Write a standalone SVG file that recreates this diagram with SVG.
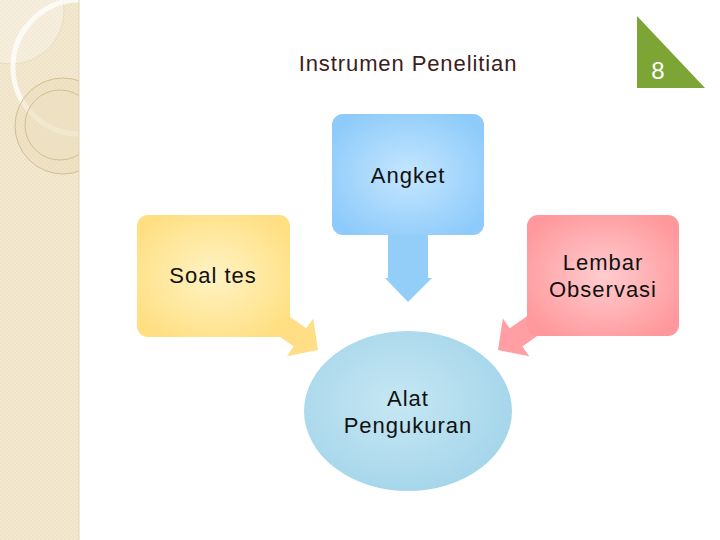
<svg xmlns="http://www.w3.org/2000/svg" width="720" height="540" viewBox="0 0 720 540">
<defs>
<pattern id="chk" width="4" height="4" patternUnits="userSpaceOnUse">
<rect width="4" height="4" fill="#EFE3C6"/>
<rect width="2" height="2" fill="#F3E9D3"/>
<rect x="2" y="2" width="2" height="2" fill="#F3E9D3"/>
</pattern>
<clipPath id="stripClip"><rect x="0" y="0" width="79" height="540"/></clipPath>
<radialGradient id="gBlue" cx="50%" cy="50%" r="60%">
<stop offset="0" stop-color="#C4E6FF"/><stop offset="1" stop-color="#8ECBFA"/>
</radialGradient>
<radialGradient id="gYel" cx="50%" cy="50%" r="60%">
<stop offset="0" stop-color="#FFF3C4"/><stop offset="1" stop-color="#FFDF82"/>
</radialGradient>
<radialGradient id="gPink" cx="50%" cy="50%" r="60%">
<stop offset="0" stop-color="#FFCCCE"/><stop offset="1" stop-color="#FF989C"/>
</radialGradient>
<radialGradient id="gEll" cx="45%" cy="45%" r="60%">
<stop offset="0" stop-color="#C6E7F3"/><stop offset="1" stop-color="#A4D5EA"/>
</radialGradient>
</defs>
<style>
.t{font-family:"Liberation Sans",Arial,sans-serif;font-size:22px;letter-spacing:1px;fill:#111;text-anchor:middle}
.title{font-family:"Liberation Sans",Arial,sans-serif;font-size:22px;letter-spacing:0.9px;fill:#3A2020;text-anchor:middle}
</style>
<rect width="720" height="540" fill="#FFFFFF"/>
<g id="strip" clip-path="url(#stripClip)">
<rect x="0" y="0" width="79" height="540" fill="url(#chk)"/>
<circle cx="11" cy="11" r="53" fill="#FFFFFF" fill-opacity="0.3" stroke="#D8C8A0" stroke-opacity="0.4" stroke-width="1"/>
<circle cx="80" cy="67" r="67" fill="none" stroke="#FFFFFF" stroke-opacity="0.75" stroke-width="5"/>
<circle cx="63" cy="126" r="48" fill="#E8D7AE" fill-opacity="0.35" stroke="#D2BE92" stroke-width="1"/>
<circle cx="60" cy="125" r="35" fill="#EEE2C4" fill-opacity="0.5" stroke="#D2BE92" stroke-width="1"/>
</g>
<line x1="79" y1="0" x2="79" y2="540" stroke="#E2D4B4" stroke-width="1"/>
<g id="pagenum">
<polygon points="637,16 637,88 705,88" fill="#7CA536"/>
<text x="658" y="79" style="font-family:'Liberation Sans',Arial,sans-serif;font-size:24px;fill:#FFFFFF;text-anchor:middle">8</text>
</g>
<text class="title" x="408" y="71">Instrumen Penelitian</text>
<g id="connectors">
<polygon points="0,0 -22,-23 -22,-11 -80,-11 -80,11 -22,11 -22,23" fill="#FFDE86" transform="translate(318,350) rotate(35)"/>
<polygon points="0,0 -22,-23 -22,-11 -80,-11 -80,11 -22,11 -22,23" fill="#FF9FA3" transform="translate(498,350) rotate(145)"/>
<polygon points="388,230 428,230 428,278 432,278 408,302 385,278 388,278" fill="#92CEF8"/>
</g>
<g id="angket">
<rect x="332" y="114" width="152" height="121" rx="11" fill="url(#gBlue)"/>
<text class="t" x="408" y="183">Angket</text>
</g>
<g id="soal">
<rect x="137" y="215" width="153" height="122" rx="11" fill="url(#gYel)"/>
<text class="t" x="213" y="283">Soal tes</text>
</g>
<g id="lembar">
<rect x="527" y="215" width="152" height="121" rx="11" fill="url(#gPink)"/>
<text class="t" x="603" y="270">Lembar</text>
<text class="t" x="603" y="297">Observasi</text>
</g>
<g id="alat">
<ellipse cx="408" cy="411" rx="104" ry="80" fill="url(#gEll)"/>
<text class="t" x="408" y="406">Alat</text>
<text class="t" x="408" y="433">Pengukuran</text>
</g>
</svg>
